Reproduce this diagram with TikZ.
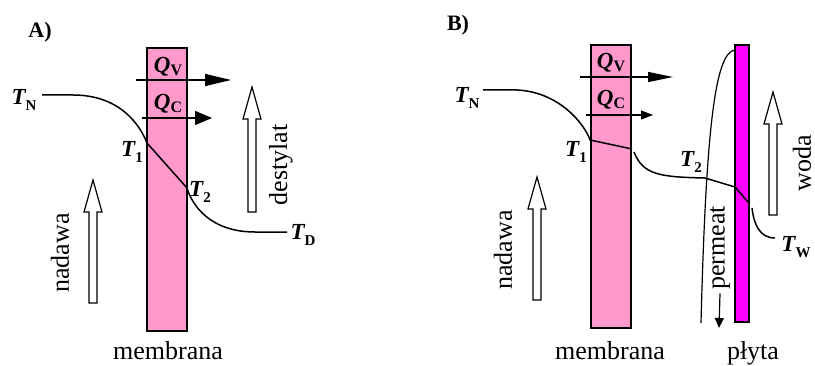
\documentclass[tikz,border=0pt]{standalone}
\usepackage{fontspec}
\setmainfont{Liberation Serif}
\usetikzlibrary{arrows.meta}
\definecolor{membr-pink}{HTML}{FF99CC}
\definecolor{plate-magenta}{HTML}{FF00FF}

% temperature and heat labels
\newcommand{\Tl}[1]{{\bfseries\itshape T}\raisebox{-0.25em}{\fontsize{15}{15}\selectfont\bfseries #1}}
\newcommand{\Ql}[1]{{\bfseries\itshape Q}\raisebox{-0.1em}{\fontsize{16}{16}\selectfont\bfseries #1}}
% hollow flow arrow: x, bottom, top
\newcommand{\flowarrow}[3]{%
  \draw[line width=1.2pt, fill=white] (#1-4,#2) -- (#1+4,#2) -- (#1+4,#3-32) -- (#1+9,#3-32)
    -- (#1,#3) -- (#1-9,#3-32) -- (#1-4,#3-32) -- cycle;}

\begin{document}
\begin{tikzpicture}[x=1pt, y=1pt,
    txt/.style={font=\fontsize{26}{30}\selectfont},
    tlab/.style={font=\fontsize{23}{26}\selectfont},
    panel/.style={font=\fontsize{22}{26}\selectfont\bfseries},
    profile/.style={line width=1.5pt},
    membr/.style={draw, line width=1.5pt, fill=membr-pink, minimum width=40pt, inner sep=0pt},
    heat/.style={line width=1.2pt}]
    \useasboundingbox (0,0) rectangle (815,365);
    % ---------- A) ----------
    \node[panel] (labA) at (40,333) {A)};
    \node[membr, minimum height=283pt] (memA) at (167,175.5) {};
    \coordinate (qvA-s) at (136,285);
    \coordinate (qvA-e) at (231,285);
    \coordinate (qcA-s) at (142,247);
    \coordinate (qcA-e) at (212,247);
    \draw[heat, -{Triangle[length=26pt, width=12pt]}] (qvA-s) -- (qvA-e);
    \draw[heat, -{Triangle[length=17pt, width=14pt]}] (qcA-s) -- (qcA-e);
    \node[tlab] (qvA) at (168,298) {\Ql{V}};
    \node[tlab] (qcA) at (168,261) {\Ql{C}};
    % temperature profile
    \coordinate (tnA) at (42,270);
    \coordinate (t1A) at (147,222);
    \coordinate (t2A) at (187,177);
    \coordinate (tdA) at (287,133);
    \draw[profile] (tnA) -- ++(31,0) .. controls (120,270) and (140,240) .. (t1A)
      -- (t2A) .. controls (192,160) and (210,133) .. (255,133) -- (tdA);
    \node[tlab] (ltnA) at (24,265) {\Tl{N}};
    \node[tlab] (lt1A) at (132,213) {\Tl{1}};
    \node[tlab] (lt2A) at (200,173) {\Tl{2}};
    \node[tlab] (ltdA) at (303,130) {\Tl{D}};
    % flows
    \node[txt, rotate=90] (nadA) at (60,112) {nadawa};
    \flowarrow{93}{62}{185}
    \node[txt, rotate=90] (dest) at (281,200) {destylat};
    \flowarrow{252}{153}{278}
    \node[txt, anchor=base] (memlabA) at (168,6) {membrana};
    % ---------- B) ----------
    \node[panel] (labB) at (458,340) {B)};
    \node[membr, minimum height=283pt] (memB) at (611,178.5) {};
    \node[draw, line width=1.5pt, fill=plate-magenta, minimum width=14pt,
          minimum height=277pt, inner sep=0pt] (plate) at (742,181.5) {};
    \coordinate (qvB-s) at (580,288);
    \coordinate (qvB-e) at (673,288);
    \coordinate (qcB-s) at (586,250);
    \coordinate (qcB-e) at (653,250);
    \draw[heat, -{Triangle[length=25pt, width=10pt]}] (qvB-s) -- (qvB-e);
    \draw[heat, -{Triangle[length=12pt, width=9pt]}] (qcB-s) -- (qcB-e);
    \node[tlab] (qvB) at (611,302) {\Ql{V}};
    \node[tlab] (qcB) at (611,265) {\Ql{C}};
    % temperature profile
    \coordinate (tnB) at (483,275);
    \coordinate (t1B) at (590,225);
    \coordinate (m2B) at (632,216);
    \coordinate (g2B) at (634,213);
    \coordinate (t2B) at (735,178);
    \coordinate (p2B) at (749,162);
    \coordinate (g3B) at (752,157);
    \coordinate (twB) at (775,127);
    \draw[profile] (tnB) -- ++(34,0) .. controls (560,273) and (585,240) .. (t1B) -- (m2B);
    \draw[profile] (g2B) .. controls (643,190) and (660,188) .. (705,187) -- (t2B) -- (p2B);
    \draw[profile] (g3B) .. controls (754,140) and (760,127) .. (twB);
    % permeat film
    \coordinate (pbot) at (701,42);
    \coordinate (ptop) at (735,315);
    \draw[line width=1.2pt] (pbot) .. controls (706,235) and (715,313) .. (ptop);
    \node[tlab] (ltnB) at (467,267) {\Tl{N}};
    \node[tlab] (lt1B) at (576,213) {\Tl{1}};
    \node[tlab] (lt2B) at (691,203) {\Tl{2}};
    \node[tlab] (ltwB) at (796,118) {\Tl{W}};
    % flows
    \node[txt, rotate=90] (nadB) at (503,115) {nadawa};
    \flowarrow{537}{65}{188}
    \node[txt, rotate=90, inner sep=0pt] (woda) at (802,202) {woda};
    \flowarrow{773}{150}{273}
    \node[txt, rotate=90] (perm) at (720,117) {permeat};
    \coordinate (perm-e) at (719,37);
    \draw[line width=1.2pt, -{Triangle[length=10pt, width=9pt]}] (perm.west) -- (perm-e);
    \node[txt, anchor=base] (memlabB) at (610,6) {membrana};
    \node[txt, anchor=base] (plyta) at (753,6) {płyta};
\end{tikzpicture}
\end{document}
